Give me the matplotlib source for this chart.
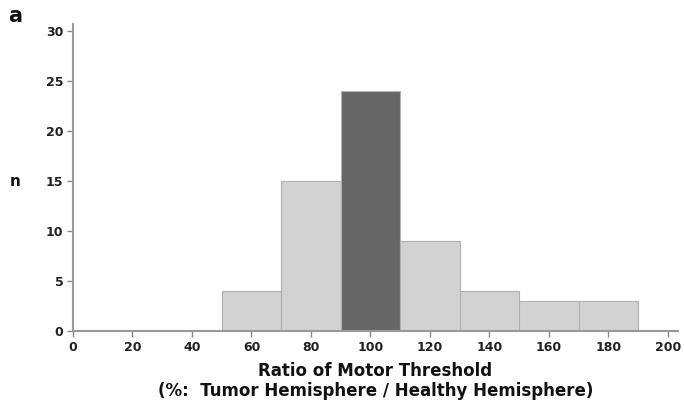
import matplotlib
matplotlib.use("Agg")
import matplotlib.pyplot as plt

bin_edges = [50, 70, 90, 110, 130, 150, 170, 190]
counts = [4, 15, 24, 9, 4, 3, 3]
highlight = [False, False, True, False, False, False, False]
xticks = [0, 20, 40, 60, 80, 100, 120, 140, 160, 180, 200]
yticks = [0, 5, 10, 15, 20, 25, 30]

plt.rcParams['font.family'] = ['DejaVu Sans']

fig = plt.figure(figsize=(6.84, 4.01), dpi=100)
ax = fig.add_axes([0.1067, 0.1746, 0.8845, 0.7656])

lefts = bin_edges[:-1]
widths = [b - a for a, b in zip(bin_edges[:-1], bin_edges[1:])]
colors = ['#666666' if h else '#d2d2d2' for h in highlight]
ax.bar(lefts, counts, width=widths, align='edge', color=colors,
       edgecolor='#b0b0b0', linewidth=0.8)

ax.set_xlim(0, 203.4)
ax.set_ylim(0, 30.7)
ax.set_xticks(xticks)
ax.set_yticks(yticks)
ax.set_xticklabels([str(t) for t in xticks], fontsize=9, fontweight='bold')
ax.set_yticklabels([str(t) for t in yticks], fontsize=9, fontweight='bold')
ax.tick_params(axis='both', colors='#888888', length=4, width=1, labelcolor='#222222', pad=3)
for s in ['top', 'right']:
    ax.spines[s].set_visible(False)
for s in ['left', 'bottom']:
    ax.spines[s].set_color('#999999')
    ax.spines[s].set_linewidth(1.5)

ax.set_xlabel('Ratio of Motor Threshold\n(%:  Tumor Hemisphere / Healthy Hemisphere)',
              fontsize=12, fontweight='bold', color='#111111', linespacing=1.15, labelpad=6)
fig.text(0.022, 0.548, 'n', fontsize=11, fontweight='bold', ha='center', va='center', color='#111111')
fig.text(0.012, 0.96, 'a', fontsize=15, fontweight='bold', ha='left', va='center', color='#111111')

fig.savefig('out.png', dpi=100)
